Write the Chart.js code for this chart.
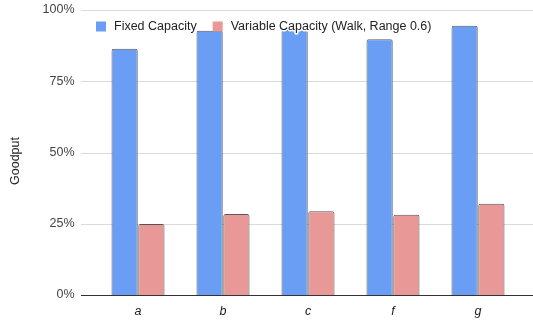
<!DOCTYPE html>
<html>
<head>
<meta charset="utf-8">
<script src="https://cdn.jsdelivr.net/npm/chart.js@4"></script>
<style>
  html, body { margin: 0; padding: 0; background: #fff; }
  #wrap { width: 533px; height: 322px; position: relative; }
</style>
</head>
<body>
<div id="wrap"><canvas id="goodputChart"></canvas></div>
<script>
// --- Datos ---
const categories = ['a', 'b', 'c', 'f', 'g'];
const fixedCapacity = [86.4, 92.7, 93.0, 89.7, 94.5];
const variableCapacity = [24.9, 28.4, 29.4, 28.2, 32.0];
const yTicks = [0, 25, 50, 75, 100];
const yTitle = 'Goodput';

const FONT = "'Liberation Sans', Arial, sans-serif";

// grid lines reach past the category band, legend + axis title drawn by hand
const overlay = {
    id: 'overlay',
    beforeDatasetsDraw(chart) {
        const { ctx, chartArea } = chart;
        const y = chart.scales.y;
        ctx.save();
        yTicks.forEach(function (v) {
            const py = Math.round(y.getPixelForValue(v)) + 0.5;
            ctx.strokeStyle = v === 0 ? '#333333' : '#dadada';
            ctx.lineWidth = 1;
            ctx.beginPath();
            ctx.moveTo(chartArea.left - 14.5, py);
            ctx.lineTo(chart.width, py);
            ctx.stroke();
        });
        ctx.restore();
    },
    afterDraw(chart) {
        const { ctx, chartArea } = chart;
        ctx.save();
        ctx.font = '12.5px ' + FONT;
        ctx.textBaseline = 'middle';

        // y axis title, centred on the whole canvas height
        ctx.save();
        ctx.translate(16, chart.height / 2);
        ctx.rotate(-Math.PI / 2);
        ctx.textAlign = 'center';
        ctx.fillStyle = '#222222';
        ctx.fillText(yTitle, 0, 0);
        ctx.restore();

        // legend
        let x = chartArea.left + 0.5;
        const cy = chartArea.top + 16.5;
        chart.data.datasets.forEach(function (ds) {
            ctx.fillStyle = ds.backgroundColor;
            ctx.fillRect(x, cy - 5, 10, 10);
            const w = ctx.measureText(ds.label).width;
            // white halo so the text stays readable over bars
            ctx.lineWidth = 3;
            ctx.strokeStyle = '#ffffff';
            ctx.lineJoin = 'round';
            ctx.strokeText(ds.label, x + 18, cy);
            ctx.fillStyle = '#222222';
            ctx.fillText(ds.label, x + 18, cy);
            x += 18 + w + 16;
        });
        ctx.restore();
    }
};

const ctx = document.getElementById('goodputChart').getContext('2d');
new Chart(ctx, {
    type: 'bar',
    data: {
        labels: categories,
        datasets: [{
            label: 'Fixed Capacity',
            data: fixedCapacity,
            backgroundColor: '#6a9ef5',
            borderColor: 'rgba(60, 60, 60, 0.85)',
            borderWidth: 1,
            borderRadius: 2,
            borderSkipped: 'bottom'
        }, {
            label: 'Variable Capacity (Walk, Range 0.6)',
            data: variableCapacity,
            backgroundColor: '#e99898',
            borderColor: 'rgba(60, 60, 60, 0.85)',
            borderWidth: 1,
            borderRadius: 2,
            borderSkipped: 'bottom'
        }]
    },
    options: {
        responsive: true,
        maintainAspectRatio: false,
        animation: false,
        layout: { padding: { left: 0, right: 12.5, top: 10, bottom: 0 } },
        datasets: {
            bar: { categoryPercentage: 0.63, barPercentage: 0.98 }
        },
        plugins: {
            tooltip: { enabled: false },
            legend: { display: false }
        },
        scales: {
            x: {
                grid: { display: false, drawTicks: false },
                border: { display: false },
                ticks: {
                    color: '#222222',
                    padding: 9,
                    font: { size: 12.5, family: FONT, style: 'italic' }
                },
                afterFit(scale) {
                    scale.height = 27;
                    scale.paddingLeft = 0;
                    scale.paddingRight = 0;
                }
            },
            y: {
                min: 0,
                max: 100,
                grid: { display: false, drawTicks: false },
                border: { display: false },
                afterBuildTicks(scale) {
                    scale.ticks = yTicks.map(function (v) { return { value: v }; });
                },
                ticks: {
                    color: '#444444',
                    padding: 21,
                    font: { size: 12.5, family: FONT },
                    callback: function (v) { return v + '%'; }
                },
                afterFit(scale) {
                    scale.width = 95.5;
                    scale.paddingTop = 0;
                    scale.paddingBottom = 0;
                }
            }
        }
    },
    plugins: [overlay]
});
</script>
</body>
</html>
